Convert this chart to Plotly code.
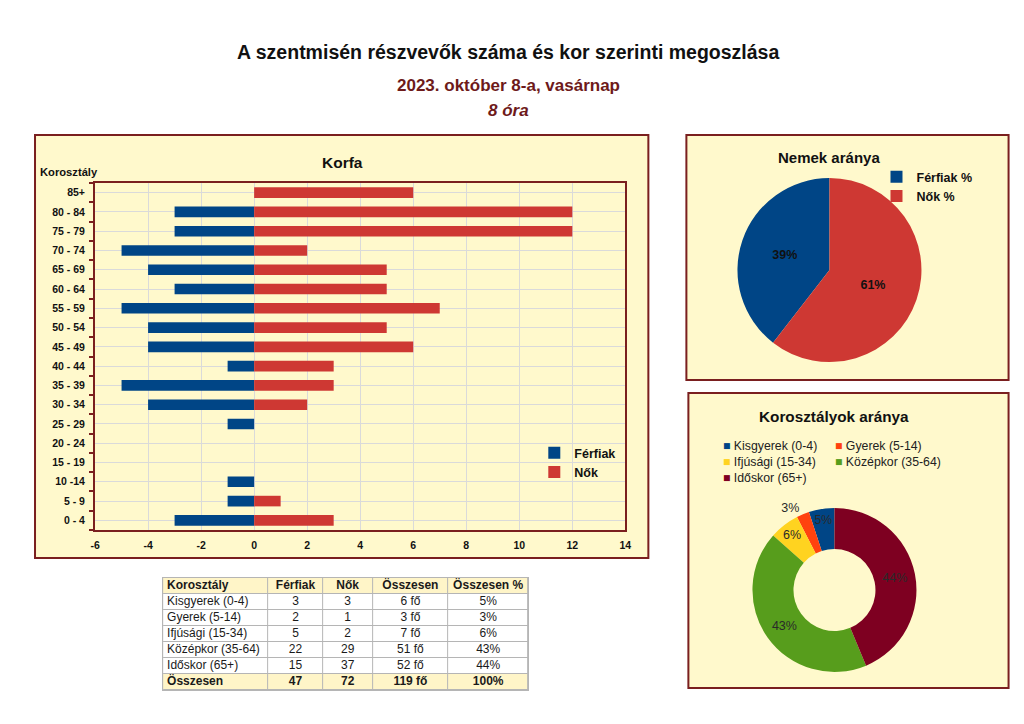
import plotly.graph_objects as go

# ---------------- data ----------------
age_groups = ["0 - 4", "5 - 9", "10 -14", "15 - 19", "20 - 24", "25 - 29", "30 - 34",
              "35 - 39", "40 - 44", "45 - 49", "50 - 54", "55 - 59", "60 - 64",
              "65 - 69", "70 - 74", "75 - 79", "80 - 84", "85+"]
men = [3, 1, 1, 0, 0, 1, 4, 5, 1, 4, 4, 5, 3, 4, 5, 3, 3, 0]
women = [3, 1, 0, 0, 0, 0, 2, 3, 3, 6, 5, 7, 5, 5, 2, 12, 12, 6]
x_ticks = [-6, -4, -2, 0, 2, 4, 6, 8, 10, 12, 14]

gender_labels = ["Férfiak %", "Nők %"]
gender_values = [47, 72]

group_labels = ["Kisgyerek (0-4)", "Gyerek (5-14)", "Ifjúsági (15-34)",
                "Középkor (35-64)", "Időskor (65+)"]
group_men = [3, 2, 5, 22, 15]
group_women = [3, 1, 2, 29, 37]

table_header = ["Korosztály", "Férfiak", "Nők", "Összesen", "Összesen %"]
total_label = "Összesen"

# ---------------- style ----------------
W, H = 1024, 724
FONT = "Liberation Sans, Arial, sans-serif"
CREAM = "#FFF9CC"
BORDER = "#7A1F1F"
DARKRED = "#6E1A1A"
BLUE = "#004586"
RED = "#CE3833"
GROUP_COLORS = ["#004586", "#FF420E", "#FFD320", "#579D1C", "#7E0021"]
HEAD_FILL = "#FFF5C8"
TABLE_LINE = "#B5B5B5"
TABLE_COL_WIDTHS = [105, 54, 50, 75, 80]


def px(x):
    # horizontal page position (in reference pixels) -> paper fraction
    return (x - 5) / 0.9887 / W


def py(y):
    return 1 - y / H


fig = go.Figure()

# ---- population pyramid ----
fig.add_trace(go.Bar(y=age_groups, x=[-m for m in men], orientation="h", name="<b>Férfiak</b>",
                     marker=dict(color=BLUE, line=dict(width=0)), legend="legend",
                     hoverinfo="skip"))
fig.add_trace(go.Bar(y=age_groups, x=women, orientation="h", name="<b>Nők</b>",
                     marker=dict(color=RED, line=dict(width=0)), legend="legend",
                     hoverinfo="skip"))
# invisible helper trace for boundary tick marks
fig.add_trace(go.Scatter(x=[0] * len(age_groups), y=age_groups, yaxis="y2", mode="markers",
                         marker=dict(opacity=0), showlegend=False, hoverinfo="skip"))

# ---- gender pie (first slice runs counter-clockwise from 12 o'clock) ----
fig.add_trace(go.Pie(labels=[f"<b>{l}</b>" for l in gender_labels], values=gender_values,
                     sort=False, direction="counterclockwise",
                     rotation=-360 * gender_values[0] / sum(gender_values),
                     marker=dict(colors=[BLUE, RED], line=dict(width=0)),
                     texttemplate="<b>%{percent:.0%}</b>", textposition="inside",
                     insidetextorientation="horizontal",
                     textfont=dict(family=FONT, size=12.5, color="#111111"),
                     domain=dict(x=[px(737), px(921)], y=[py(362), py(178)]),
                     legend="legend2", hoverinfo="skip"))

# ---- age group donut ----
group_totals = [m + w for m, w in zip(group_men, group_women)]
grand_total = sum(group_totals)
fig.add_trace(go.Pie(labels=group_labels, values=group_totals, sort=False, hole=0.5,
                     direction="counterclockwise",
                     rotation=-360 * group_totals[0] / grand_total,
                     marker=dict(colors=GROUP_COLORS, line=dict(width=0)),
                     texttemplate="%{percent:.0%}",
                     textposition=["inside", "outside", "inside", "inside", "inside"],
                     insidetextorientation="horizontal",
                     textfont=dict(family=FONT, size=12.5, color="#2a2a2a"),
                     domain=dict(x=[px(752), px(916)], y=[py(672), py(508)]),
                     showlegend=False, hoverinfo="skip"))

# ---- summary table (cells = heatmap bricks, text = scatter text) ----
col_group = [f"<b>{table_header[0]}</b>"] + group_labels + [f"<b>{total_label}</b>"]
col_men = [f"<b>{table_header[1]}</b>"] + [str(v) for v in group_men] + [f"<b>{sum(group_men)}</b>"]
col_women = [f"<b>{table_header[2]}</b>"] + [str(v) for v in group_women] + [f"<b>{sum(group_women)}</b>"]
col_total = [f"<b>{table_header[3]}</b>"] + [f"{v} fő" for v in group_totals] + [f"<b>{grand_total} fő</b>"]
col_pct = [f"<b>{table_header[4]}</b>"] + [f"{round(100 * v / grand_total)}%" for v in group_totals] + ["<b>100%</b>"]
table_cols = [col_group, col_men, col_women, col_total, col_pct]
n_rows = len(col_group)
edges = [0]
for w in TABLE_COL_WIDTHS:
    edges.append(edges[-1] + w)
row_kind = [1] + [0] * len(group_labels) + [1]
z = [[k] * len(TABLE_COL_WIDTHS) for k in row_kind]
fig.add_trace(go.Heatmap(z=z, x=edges, y=list(range(n_rows)), xaxis="x2", yaxis="y3",
                         colorscale=[[0, "white"], [1, HEAD_FILL]], zmin=0, zmax=1,
                         showscale=False, xgap=1, ygap=1, hoverinfo="skip"))
fig.add_trace(go.Scatter(x=[edges[0] + 4] * n_rows, y=list(range(n_rows)), text=col_group,
                         mode="text", textposition="middle right", xaxis="x2", yaxis="y3",
                         textfont=dict(family=FONT, size=12, color="#1a1a1a"),
                         showlegend=False, hoverinfo="skip", cliponaxis=False))
tx, ty, tt = [], [], []
for ci in range(1, len(table_cols)):
    for ri, val in enumerate(table_cols[ci]):
        tx.append((edges[ci] + edges[ci + 1]) / 2)
        ty.append(ri)
        tt.append(val)
fig.add_trace(go.Scatter(x=tx, y=ty, text=tt, mode="text", textposition="middle center",
                         xaxis="x2", yaxis="y3",
                         textfont=dict(family=FONT, size=12, color="#1a1a1a"),
                         showlegend=False, hoverinfo="skip", cliponaxis=False))

# ---------------- layout ----------------
panels = [(35, 135, 648, 558), (686, 135, 1008, 380), (688, 393, 1008, 688)]
shapes = []
for x0, y0, x1, y1 in panels:
    shapes.append(dict(type="rect", xref="paper", yref="paper", layer="below",
                       x0=px(x0), x1=px(x1), y0=py(y1), y1=py(y0),
                       fillcolor=CREAM, line=dict(color=BORDER, width=2)))
# grey backing that shows through the table's cell gaps
shapes.append(dict(type="rect", xref="x2 domain", yref="y3 domain", layer="below",
                   x0=0, x1=1, y0=0, y1=1, fillcolor=TABLE_LINE, line=dict(width=0)))

annotations = [
    dict(text="<b>A szentmisén részvevők száma és kor szerinti megoszlása</b>",
         x=px(508), y=py(52), font=dict(size=19.5, color="#111111")),
    dict(text="<b>2023. október 8-a, vasárnap</b>", x=px(508), y=py(85),
         font=dict(size=17, color=DARKRED)),
    dict(text="<b><i>8 óra</i></b>", x=px(508), y=py(110), font=dict(size=17, color=DARKRED)),
    dict(text="<b>Korfa</b>", x=px(342), y=py(162), font=dict(size=15.5, color="#111111")),
    dict(text="<b>Nemek aránya</b>", x=px(829), y=py(158), font=dict(size=15, color="#111111")),
    dict(text="<b>Korosztályok aránya</b>", x=px(834), y=py(416),
         font=dict(size=15.3, color="#111111")),
]
for a in annotations:
    a.update(xanchor="center")
annotations.append(dict(text="<b>Korosztály</b>", x=px(38), y=py(172), xanchor="left",
                        font=dict(size=11.2, color="#111111")))
for a in annotations:
    a.update(xref="paper", yref="paper", showarrow=False, yanchor="middle")
    a["font"]["family"] = FONT

# donut legend (two columns)
leg_pos = [(721, 446), (833, 446), (721, 462), (833, 462), (721, 478)]
for lbl, col, (lx, ly) in zip(group_labels, GROUP_COLORS, leg_pos):
    annotations.append(dict(text=f"<span style='color:{col}'>■</span> {lbl}",
                            x=px(lx), y=py(ly), xref="paper", yref="paper",
                            xanchor="left", yanchor="middle", showarrow=False,
                            font=dict(family=FONT, size=12.3, color="#222222")))

hidden_axis = dict(showgrid=False, zeroline=False, showticklabels=False, ticks="",
                   showline=True, linecolor=TABLE_LINE, linewidth=1, mirror=True,
                   fixedrange=True)

fig.update_layout(
    width=W, height=H, margin=dict(l=0, r=0, t=0, b=0),
    paper_bgcolor="white", plot_bgcolor="rgba(0,0,0,0)",
    font=dict(family=FONT, color="#111111"),
    barmode="relative", bargap=0.45,
    shapes=shapes, annotations=annotations,
    xaxis=dict(domain=[px(95), px(625)], range=[-6, 14], tickvals=x_ticks,
               ticktext=[f"<b>{v}</b>" for v in x_ticks],
               showgrid=True, gridcolor="#DADADA", gridwidth=1, zeroline=False,
               showline=True, linecolor=BORDER, linewidth=2, mirror=True,
               ticks="outside", ticklen=4, tickcolor="rgba(0,0,0,0)",
               tickfont=dict(size=10.5, color="#111111"), fixedrange=True),
    yaxis=dict(domain=[py(530), py(183)], type="category", categoryarray=age_groups,
               categoryorder="array", range=[-0.5, len(age_groups) - 0.5],
               ticktext=[f"<b>{g}</b>" for g in age_groups], tickvals=age_groups,
               showgrid=True, gridcolor="#DADADA", gridwidth=1, zeroline=False,
               showline=True, linecolor=BORDER, linewidth=2, mirror=True,
               ticks="outside", ticklen=6, tickcolor="rgba(0,0,0,0)",
               tickfont=dict(size=10.5, color="#111111"), fixedrange=True),
    yaxis2=dict(overlaying="y", anchor="x", side="left", type="category",
                categoryarray=age_groups, categoryorder="array",
                range=[-0.5, len(age_groups) - 0.5], tickson="boundaries",
                ticks="outside", ticklen=5, tickwidth=2, tickcolor=BORDER,
                showticklabels=False, showgrid=False, zeroline=False, showline=False),
    xaxis2=dict(domain=[px(163), px(528)], range=[edges[0], edges[-1]], anchor="y3",
                **hidden_axis),
    yaxis3=dict(domain=[py(690), py(578)], range=[n_rows - 0.5, -0.5], anchor="x2",
                **hidden_axis),
    legend=dict(x=px(534), y=py(438), xanchor="left", yanchor="top",
                bgcolor="rgba(0,0,0,0)", font=dict(size=12.5, family=FONT, color="#111111"),
                itemclick=False, tracegroupgap=0),
    legend2=dict(x=px(876), y=py(162), xanchor="left", yanchor="top",
                 bgcolor="rgba(0,0,0,0)", font=dict(size=12.5, family=FONT, color="#111111"),
                 itemclick=False),
    showlegend=True,
)

fig.write_html("out.html", config=dict(displayModeBar=False, staticPlot=True),
               post_script="document.body.style.margin='0';"
                           "document.body.style.overflow='hidden';"
                           "document.documentElement.style.overflow='hidden';")
